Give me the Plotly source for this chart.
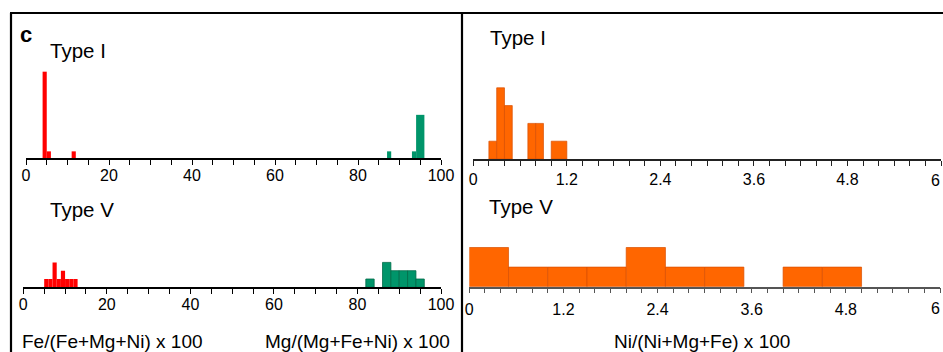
import plotly.graph_objects as go

W, H = 943, 352

# ---------------- data ----------------
fe_type1_bins = [4, 5, 11]
fe_type1_widths = [1, 1, 1]
fe_type1_counts = [13, 1, 1]

mg_type1_bins = [87, 93, 94]
mg_type1_widths = [1, 1, 2]
mg_type1_counts = [1, 1, 6.5]

fe_type5_bins = [5, 6, 7, 8, 9, 10, 11, 12]
fe_type5_widths = [1, 1, 1, 1, 1, 1, 1, 1]
fe_type5_counts = [1, 1, 3, 1, 2, 1, 1, 1]

mg_type5_bins = [82, 86, 88, 90, 92, 94]
mg_type5_widths = [2, 2, 2, 2, 2, 2]
mg_type5_counts = [1, 3, 2, 2, 2, 1]

ni_type1_bins = [0.2, 0.3, 0.4, 0.7, 0.8, 1.0]
ni_type1_widths = [0.1, 0.1, 0.1, 0.1, 0.1, 0.2]
ni_type1_counts = [1, 4, 3, 2, 2, 1]

ni_type5_bins = [0, 0.5, 1.0, 1.5, 2.0, 2.5, 3.0, 4.0, 4.5]
ni_type5_widths = [0.5] * 9
ni_type5_counts = [2, 1, 1, 1, 2, 1, 1, 1, 1]

left_ticks = [0, 20, 40, 60, 80, 100]
left_ticktext = ["0", "20", "40", "60", "80", "100"]
right_ticks = [0, 1.2, 2.4, 3.6, 4.8, 6]
right_ticktext = ["0", "1.2", "2.4", "3.6", "4.8", ""]
right_edge_label = "6"

RED = "#FF0000"
GREEN = "#00956A"
ORANGE = "#FF6600"
FONT = "Liberation Sans, Arial, sans-serif"


def px(x):
    return x / W


def py(y):
    return 1 - y / H


def centers(bins, widths):
    return [b + w / 2 for b, w in zip(bins, widths)]


fig = go.Figure()


def add_bars(bins, widths, counts, color, xa, ya, line_color=None, lw=0):
    fig.add_trace(go.Bar(
        x=centers(bins, widths), y=counts, width=widths,
        marker=dict(color=color, line=dict(color=line_color or color, width=lw)),
        xaxis=xa, yaxis=ya, showlegend=False, hoverinfo="skip"))


add_bars(fe_type1_bins, fe_type1_widths, fe_type1_counts, RED, "x", "y")
add_bars(mg_type1_bins, mg_type1_widths, mg_type1_counts, GREEN, "x", "y")
add_bars(fe_type5_bins, fe_type5_widths, fe_type5_counts, RED, "x2", "y2")
add_bars(mg_type5_bins, mg_type5_widths, mg_type5_counts, GREEN, "x2", "y2", "#006B48", 0.8)
add_bars(ni_type1_bins, ni_type1_widths, ni_type1_counts, ORANGE, "x3", "y3", "#D84F00", 0.7)
add_bars(ni_type5_bins, ni_type5_widths, ni_type5_counts, ORANGE, "x4", "y4", "#D84F00", 0.7)


def xaxis(dom_px, rng, tickvals, ticktext, minor_dtick, anchor, standoff, linecolor="black"):
    return dict(
        domain=[px(dom_px[0]), px(dom_px[1])], range=rng, anchor=anchor,
        automargin=False, ticklabeloverflow="allow",
        showline=True, linecolor=linecolor, linewidth=1.5,
        ticks="outside", ticklen=5, tickwidth=1.2, tickcolor=linecolor,
        tickmode="array", tickvals=tickvals, ticktext=ticktext,
        ticklabelstandoff=standoff,
        minor=dict(ticks="outside", ticklen=5, tickwidth=1, tickcolor=linecolor,
                   dtick=minor_dtick, tick0=0, showgrid=False),
        showgrid=False, zeroline=False, fixedrange=True,
        tickfont=dict(family=FONT, size=16, color="black"),
    )


def yaxis(top_px, bottom_px, unit_px, anchor):
    return dict(
        domain=[py(bottom_px), py(top_px)],
        range=[0, (bottom_px - top_px) / unit_px],
        visible=False, anchor=anchor, fixedrange=True,
    )


fig.update_layout(
    width=W, height=H,
    margin=dict(l=0, r=0, t=0, b=0, autoexpand=False),
    paper_bgcolor="white", plot_bgcolor="rgba(0,0,0,0)",
    barmode="overlay",
    xaxis=xaxis((26, 441), [0, 100], left_ticks, left_ticktext, 5, "y", -3),
    yaxis=yaxis(40, 158, 6.64, "x"),
    xaxis2=xaxis((23.3, 441), [0, 100], left_ticks, left_ticktext, 5, "y2", -3),
    yaxis2=yaxis(200, 287.3, 8.3, "x2"),
    xaxis3=xaxis((473.3, 941), [0, 6], right_ticks, right_ticktext, 0.2, "y3", 0, "#222222"),
    yaxis3=yaxis(40, 159, 17.8, "x3"),
    xaxis4=xaxis((469.3, 940), [0, 6], right_ticks, right_ticktext, 0.2, "y4", 2, "#555555"),
    yaxis4=yaxis(200, 286.7, 19.6, "x4"),
)

# frame lines
for x0, y0, x1, y1 in [(10, 13, 943, 13), (11, 13, 11, 352), (462, 13, 462, 352)]:
    fig.add_shape(type="line", xref="paper", yref="paper",
                  x0=px(x0), y0=py(y0), x1=px(x1), y1=py(y1),
                  line=dict(color="black", width=2.2))


def label(text, x, y, size, xanchor="left", bold=False):
    fig.add_annotation(text=("<b>%s</b>" % text) if bold else text,
                       xref="paper", yref="paper", x=px(x), y=py(y),
                       xanchor=xanchor, yanchor="middle", showarrow=False,
                       font=dict(family=FONT, size=size, color="black"))


label("c", 18, 35, 22, bold=True)
label("Type I", 48, 50, 20.5)
label("Type V", 48, 209, 20.5)
label("Type I", 488, 38, 20.5)
label("Type V", 487, 207, 20.5)
label("Fe/(Fe+Mg+Ni) x 100", 20, 341, 19)
label("Mg/(Mg+Fe+Ni) x 100", 452, 341, 19, xanchor="right")
label("Ni/(Ni+Mg+Fe) x 100", 702, 341, 19, xanchor="center")
# right-edge tick labels kept fully inside the page
label(right_edge_label, 942, 180, 16, xanchor="right")
label(right_edge_label, 942, 308, 16, xanchor="right")

fig.write_html(
    "out.html",
    config={"displayModeBar": False},
    post_script="document.body.style.margin='0';document.body.style.overflow='hidden';",
)
